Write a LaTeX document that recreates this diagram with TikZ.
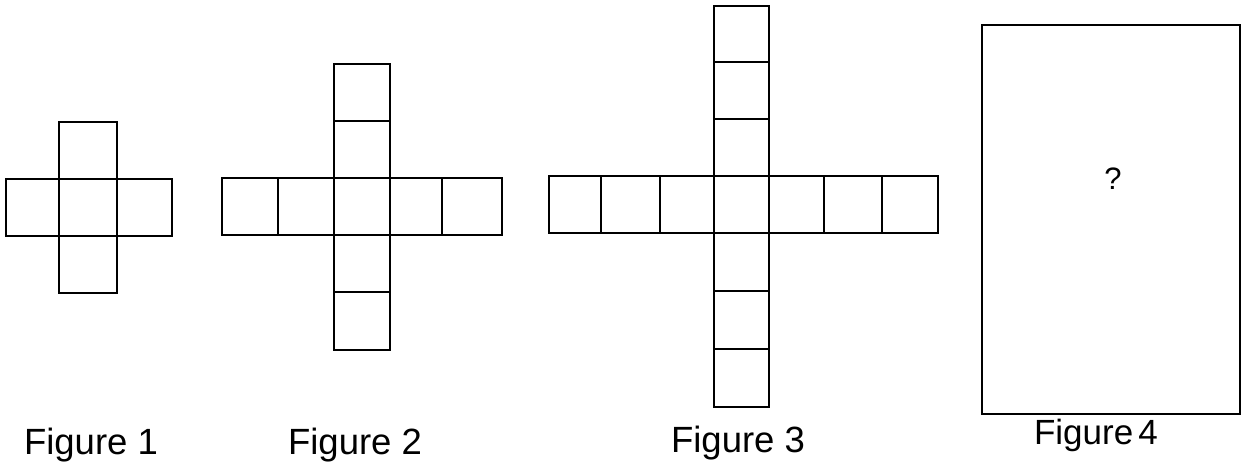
\documentclass[tikz,border=0pt]{standalone}
\usepackage{fontspec}
\setmainfont{Liberation Sans}
\begin{document}
\begin{tikzpicture}[x=1pt,y=-1pt,
  cell/.style={draw=black,line width=2pt},
  lab/.style={font=\fontsize{36.5}{38}\selectfont,inner sep=0pt,anchor=base}]
\useasboundingbox (0,0) rectangle (1249,463);
% Figure 1
\draw[cell] (59,122) rectangle (117,293);
\draw[cell] (6,179) rectangle (172,236);
\draw[cell] (59,179) -- (59,236) (117,179) -- (117,236);
% Figure 2
\draw[cell] (222,178) rectangle (502,235);
\foreach \x in {278,334,390,442} \draw[cell] (\x,178) -- (\x,235);
\draw[cell] (334,64) rectangle (390,350);
\foreach \y in {121,292} \draw[cell] (334,\y) -- (390,\y);
% Figure 3
\draw[cell] (549,176) rectangle (938,233);
\foreach \x in {601,660,714,769,824,882} \draw[cell] (\x,176) -- (\x,233);
\draw[cell] (714,6) rectangle (769,407);
\foreach \y in {62,119,291,349} \draw[cell] (714,\y) -- (769,\y);
% Figure 4
\draw[cell] (982,25) rectangle (1240,414);
\node[font=\fontsize{31}{33}\selectfont,inner sep=0pt] (q) at (1113,179) {?};
% labels
\node[lab] (f1) at (91,454) {Figure 1};
\node[lab] (f2) at (355,454) {Figure 2};
\node[lab] (f3) at (738,452) {Figure 3};
\node[lab,font=\fontsize{35}{37}\selectfont] (f4) at (1096,444) {Figure\hspace{0.15em}4};
\end{tikzpicture}
\end{document}
